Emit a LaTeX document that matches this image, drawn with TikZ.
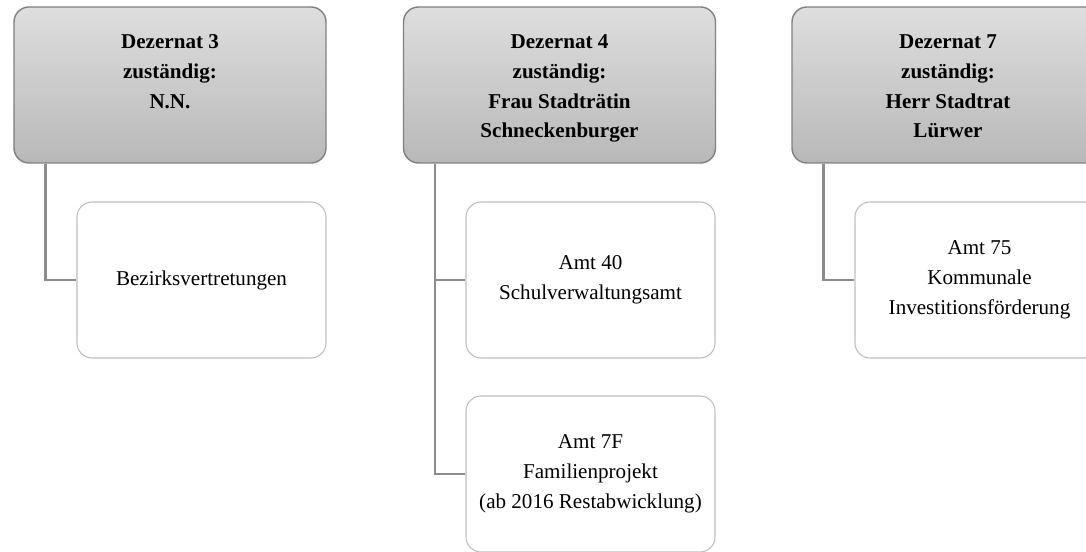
\documentclass[tikz,border=0pt]{standalone}
\usepackage{fontspec}
\setmainfont{Liberation Serif}
\usepackage{xcolor}
\usepackage{tikz}
\usetikzlibrary{calc}

\definecolor{hdrtop}{RGB}{222,222,222}
\definecolor{hdrbot}{RGB}{184,184,184}
\definecolor{hdrline}{RGB}{128,128,128}
\definecolor{amtline}{RGB}{190,190,190}
\definecolor{linkgray}{RGB}{140,140,140}

\tikzset{
    dezernat/.style={draw=hdrline, line width=0.8pt, rounded corners=0.3cm,
        top color=hdrtop, bottom color=hdrbot,
        minimum width=6.24cm, minimum height=3.12cm, inner sep=0pt},
    amt/.style={draw=amtline, line width=0.6pt, rounded corners=0.3cm, fill=white,
        minimum width=4.98cm, minimum height=3.12cm, align=center,
        font=\fontsize{12}{17}\selectfont},
    link/.style={draw=linkgray, line width=1.4pt},
}
\newcommand{\dezText}[1]{\parbox[c][2.02cm][t]{6cm}{\centering\bfseries\fontsize{12}{17}\selectfont #1}}

\begin{document}
\begin{tikzpicture}
    \clip (0,0) rectangle (21.72,-11.04);

    % Dezernat 3
    \node [dezernat] (d3) at (3.40, -1.70) {\dezText{Dezernat 3\\zuständig:\\N.N.}};
    \node [amt] (a3) at (4.03, -5.60) {Bezirksvertretungen};
    \coordinate (s3) at ($(d3.south west)+(0.64,0)$);
    \draw [link] (s3) |- (a3.west);

    % Dezernat 4
    \node [dezernat] (d4) at (11.19, -1.70) {\dezText{Dezernat 4\\zuständig:\\Frau Stadträtin\\Schneckenburger}};
    \node [amt] (a40) at (11.81, -5.60) {Amt 40\\Schulverwaltungsamt};
    \node [amt] (a7f) at (11.81, -9.48) {Amt 7F\\Familienprojekt\\(ab 2016 Restabwicklung)};
    \coordinate (s4) at ($(d4.south west)+(0.64,0)$);
    \draw [link] (s4) |- (a40.west);
    \draw [link] (s4) |- (a7f.west);

    % Dezernat 7
    \node [dezernat] (d7) at (18.96, -1.70) {\dezText{Dezernat 7\\zuständig:\\Herr Stadtrat\\Lürwer}};
    \node [amt] (a75) at (19.59, -5.60) {Amt 75\\Kommunale\\Investitionsförderung};
    \coordinate (s7) at ($(d7.south west)+(0.64,0)$);
    \draw [link] (s7) |- (a75.west);
\end{tikzpicture}
\end{document}
